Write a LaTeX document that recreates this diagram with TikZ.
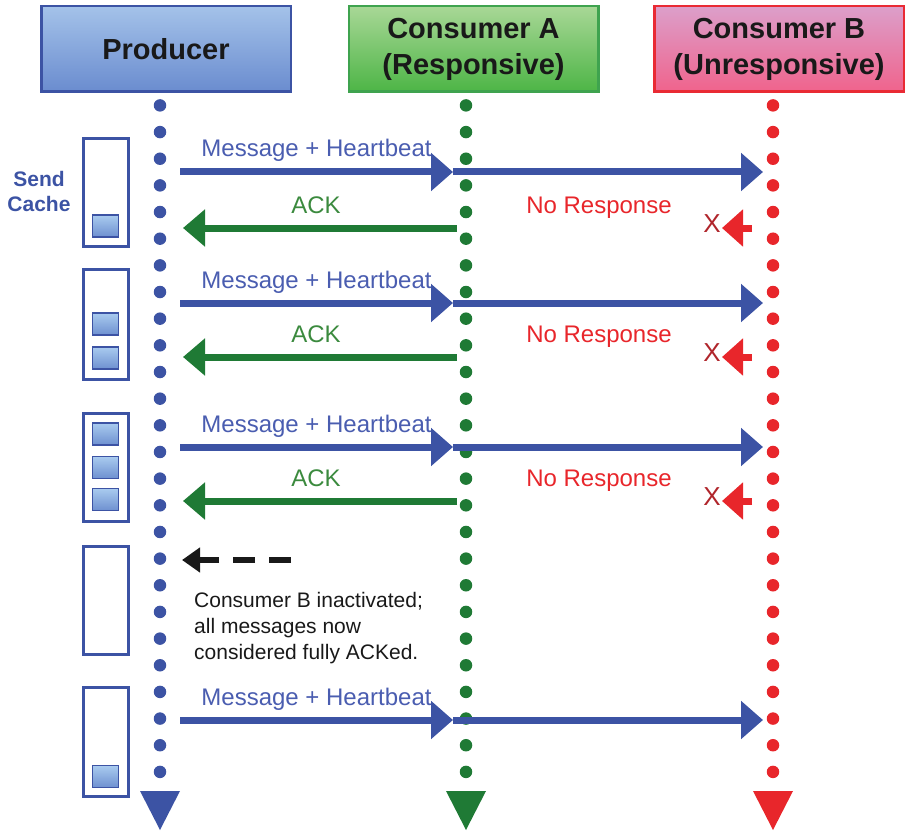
\documentclass[tikz,border=0pt]{standalone}
\usepackage{fontspec}
\setmainfont{Liberation Sans}
\usetikzlibrary{arrows.meta, positioning}

\definecolor{prodblue}{HTML}{3C53A4}
\definecolor{lblblue}{HTML}{4A5DB0}
\definecolor{ackgreen}{HTML}{1F7A35}
\definecolor{lblgreen}{HTML}{3B8A3E}
\definecolor{nored}{HTML}{E8262B}
\definecolor{xred}{HTML}{B0252B}
\definecolor{prodtop}{HTML}{A4C2E9}
\definecolor{prodbot}{HTML}{6A8CCF}
\definecolor{atop}{HTML}{A8D796}
\definecolor{abot}{HTML}{4DB546}
\definecolor{adraw}{HTML}{3FA34F}
\definecolor{btop}{HTML}{DC9FCA}
\definecolor{bbot}{HTML}{F0638C}
\definecolor{bdraw}{HTML}{E92A34}
\definecolor{slottop}{HTML}{A9CBEF}
\definecolor{slotbot}{HTML}{6E90D0}

\begin{document}
\begin{tikzpicture}[x=1pt, y=-1pt,
		hdr/.style={draw, line width=2.5pt, minimum width=249.5pt, minimum height=85.5pt, inner sep=0pt, align=center, text=black!90, font=\fontsize{29}{36}\selectfont\bfseries},
		cachebox/.style={draw=prodblue, line width=3pt, fill=white, minimum width=45pt, inner sep=0pt},
		slotbox/.style={draw=prodblue, line width=1.5pt, top color=slottop, bottom color=slotbot, minimum width=26pt, minimum height=22pt, inner sep=0pt},
		lifeline/.style={line width=12.5pt, line cap=round, dash pattern=on 0pt off 26.66pt},
		msg/.style={-{Triangle[length=22pt, width=37pt]}, line width=7pt, prodblue},
		ack/.style={-{Triangle[length=22pt, width=36pt]}, line width=7pt, ackgreen},
		nores/.style={-{Triangle[length=21pt, width=36pt]}, line width=7pt, nored},
		gone/.style={-{Triangle[length=18pt, width=24pt]}, line width=6pt, black!90, dash pattern=on 22pt off 14pt},
		lbl/.style={anchor=base, yshift=15pt, inner sep=0pt, font=\fontsize{24}{28}\selectfont}]

	\useasboundingbox (0,0) rectangle (908,832);

	% actors
	\node [hdr, draw=prodblue, top color=prodtop, bottom color=prodbot]	(prod)	at (166,49)		{Producer};
	\node [hdr, draw=adraw, top color=atop, bottom color=abot]			(consA)	at (473.5,49)	{Consumer A\\(Responsive)};
	\node [hdr, draw=bdraw, top color=btop, bottom color=bbot]			(consB)	at (779,49)		{Consumer B\\(Unresponsive)};

	% lifelines
	\coordinate (p0) at (160,105.4);	\coordinate (p9) at (160,772.3);
	\coordinate (a0) at (466,105.4);	\coordinate (a9) at (466,772.3);
	\coordinate (b0) at (773,105.4);	\coordinate (b9) at (773,772.3);
	\draw [lifeline, prodblue]	(p0) -- (p9);
	\draw [lifeline, ackgreen]	(a0) -- (a9);
	\draw [lifeline, nored]		(b0) -- (b9);
	\fill [prodblue]	(p9) ++(-20,18.7) -- ++(40,0) -- ++(-20,39) -- cycle;
	\fill [ackgreen]	(a9) ++(-20,18.7) -- ++(40,0) -- ++(-20,39) -- cycle;
	\fill [nored]		(b9) ++(-20,18.7) -- ++(40,0) -- ++(-20,39) -- cycle;

	% send cache
	\node [prodblue, align=center, font=\fontsize{21}{25}\selectfont\bfseries] (sc) at (39,191) {Send\\Cache};
	\node [cachebox, minimum height=108pt]	(c1) at (106,192.5) {};
	\node [cachebox, minimum height=110pt]	(c2) at (106,324.5) {};
	\node [cachebox, minimum height=108pt]	(c3) at (106,467.5) {};
	\node [cachebox, minimum height=108pt]	(c4) at (106,600)   {};
	\node [cachebox, minimum height=109pt]	(c5) at (106,742)   {};
	\node [slotbox] (s11) at (105.5,226)   {};
	\node [slotbox] (s21) at (105.5,324)   {};
	\node [slotbox] (s22) at (105.5,358)   {};
	\node [slotbox] (s31) at (105.5,434)   {};
	\node [slotbox] (s32) at (105.5,467.5) {};
	\node [slotbox] (s33) at (105.5,499.5) {};
	\node [slotbox] (s51) at (105.5,776.5) {};

	% messages
	\coordinate (m1) at (180,172);	\coordinate (m1a) at (453,172);	\coordinate (m1b) at (763,172);
	\coordinate (m2) at (180,303);	\coordinate (m2a) at (453,303);	\coordinate (m2b) at (763,303);
	\coordinate (m3) at (180,447);	\coordinate (m3a) at (453,447);	\coordinate (m3b) at (763,447);
	\coordinate (m5) at (180,720);	\coordinate (m5a) at (453,720);	\coordinate (m5b) at (763,720);
	\coordinate (k1) at (457,228);	\coordinate (k1e) at (183,228);	\coordinate (r1) at (752,228);	\coordinate (r1e) at (722,228);
	\coordinate (k2) at (457,357);	\coordinate (k2e) at (183,357);	\coordinate (r2) at (752,357);	\coordinate (r2e) at (722,357);
	\coordinate (k3) at (457,501);	\coordinate (k3e) at (183,501);	\coordinate (r3) at (752,501);	\coordinate (r3e) at (722,501);

	\path	(m1) edge [msg] node [lbl, lblblue] {Message + Heartbeat} (m1a)
			(m1a) edge [msg] (m1b)
			(k1) edge [ack] node [lbl, lblgreen, xshift=-4pt] {ACK} (k1e)
			(r1) edge [nores] (r1e)

			(m2) edge [msg] node [lbl, lblblue] {Message + Heartbeat} (m2a)
			(m2a) edge [msg] (m2b)
			(k2) edge [ack] node [lbl, lblgreen, xshift=-4pt] {ACK} (k2e)
			(r2) edge [nores] (r2e)

			(m3) edge [msg] node [lbl, lblblue] {Message + Heartbeat} (m3a)
			(m3a) edge [msg] (m3b)
			(k3) edge [ack] node [lbl, lblgreen, xshift=-4pt] {ACK} (k3e)
			(r3) edge [nores] (r3e)

			(m5) edge [msg] node [lbl, lblblue] {Message + Heartbeat} (m5a)
			(m5a) edge [msg] (m5b)
	;

	\node [lbl, nored] (nr1) at (599,228) {No Response};
	\node [lbl, nored] (nr2) at (599,357) {No Response};
	\node [lbl, nored] (nr3) at (599,501) {No Response};
	\node [xred, inner sep=1pt, left=0pt of r1e, yshift=4pt, font=\fontsize{26}{30}\selectfont] (x1) {X};
	\node [xred, inner sep=1pt, left=0pt of r2e, yshift=4pt, font=\fontsize{26}{30}\selectfont] (x2) {X};
	\node [xred, inner sep=1pt, left=0pt of r3e, yshift=4pt, font=\fontsize{26}{30}\selectfont] (x3) {X};

	% consumer B dropped
	\coordinate (d0) at (291,560);	\coordinate (d1) at (182,560);
	\draw [gone] (d0) -- (d1);
	\node [anchor=north west, inner sep=0pt, align=left, text=black!90, font=\fontsize{21}{26}\selectfont] (note) at (194,592)
		{Consumer B inactivated;\\all messages now\\considered fully ACKed.};

\end{tikzpicture}
\end{document}
